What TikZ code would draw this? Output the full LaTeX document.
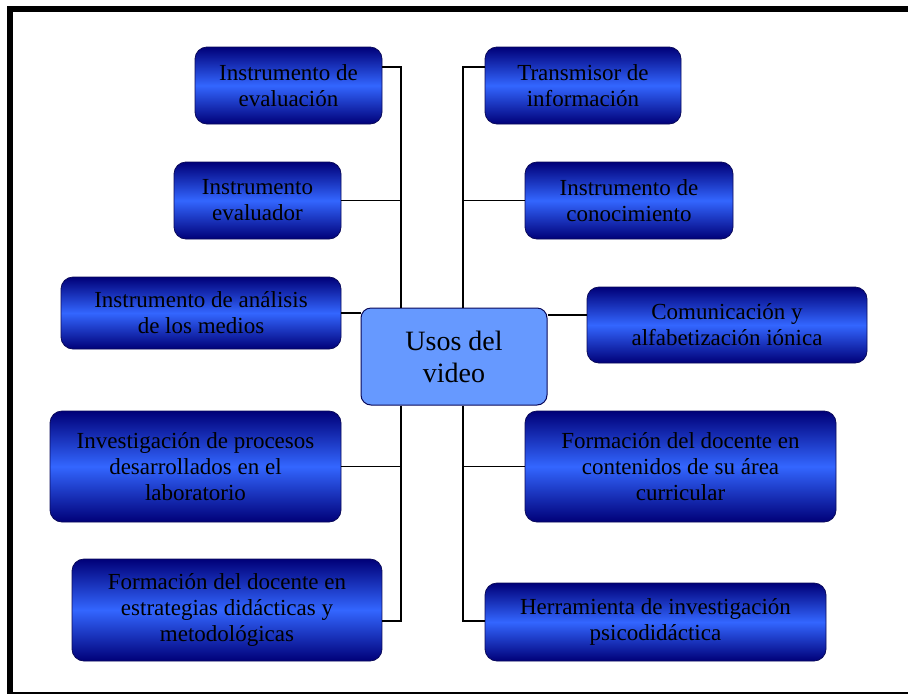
\documentclass[tikz,border=0pt]{standalone}
\usepackage{fontspec}
\setmainfont{Liberation Serif}
\newfontfamily\boxserif{Liberation Serif}
\definecolor{navyd}{RGB}{0,0,120}
\definecolor{brightb}{RGB}{51,102,255}
\definecolor{centerb}{RGB}{102,153,255}
\definecolor{edgeb}{RGB}{10,10,90}
\begin{document}
\begin{tikzpicture}[x=1pt,y=-1pt,
  usebox/.style={draw=edgeb, line width=0.8pt, rounded corners=12pt,
    top color=navyd, bottom color=navyd, middle color=brightb,
    align=center, inner sep=0pt, text=black,
    font=\boxserif\fontsize{23}{26}\selectfont},
  hub/.style={draw=edgeb, line width=1pt, rounded corners=10pt, fill=centerb,
    align=center, inner sep=0pt, text=black,
    font=\boxserif\fontsize{28}{32}\selectfont},
  conn/.style={draw=black, line width=1.3pt},
  frameline/.style={draw=black}]
\useasboundingbox (0,0) rectangle (908,697);
% outer frame
\draw[frameline, line width=1.5pt] (7,693) -- (908,693);
\draw[frameline, line width=6pt, line join=miter] (10,693) -- (10,8.5) -- (908,8.5);

% nodes
\node[usebox, minimum width=187pt, minimum height=77pt] (b1) at (288.5,85.5) {Instrumento de\\evaluación};
\node[usebox, minimum width=167pt, minimum height=77pt] (b2) at (257.5,200.5) {Instrumento\\evaluador};
\node[usebox, minimum width=280pt, minimum height=72pt] (b3) at (201,313) {Instrumento de análisis\\de los medios};
\node[usebox, minimum width=291pt, minimum height=111pt] (b4) at (195.5,466.5) {Investigación de procesos\\desarrollados en el\\laboratorio};
\node[usebox, minimum width=310pt, minimum height=102pt] (b5) at (227,610) {Formación del docente en\\estrategias didácticas y\\metodológicas};

\node[usebox, minimum width=196pt, minimum height=77pt] (r1) at (583,85.5) {Transmisor de\\información};
\node[usebox, minimum width=208pt, minimum height=77pt] (r2) at (629,200.5) {Instrumento de\\conocimiento};
\node[usebox, minimum width=280pt, minimum height=76pt] (r3) at (727,325) {Comunicación y\\alfabetización iónica};
\node[usebox, minimum width=311pt, minimum height=111pt] (r4) at (680.5,466.5) {Formación del docente en\\contenidos de su área\\curricular};
\node[usebox, minimum width=341pt, minimum height=78pt] (r5) at (655.5,622) {Herramienta de investigación\\psicodidáctica};

\node[hub, minimum width=186pt, minimum height=97pt] (hub) at (454,356.5) {Usos del\\video};

% trunk coordinates
\coordinate (lt) at (401,67);
\coordinate (lb) at (401,621);
\coordinate (rt) at (463,67);
\coordinate (rb) at (463,621);
\coordinate (rc) at (560,315);

% connectors left
\draw[conn] (b1.east |- lt) -- (lt) -- (lt |- hub.north);
\draw[conn] (b2.east) -- (b2.east -| lt);
\draw[conn] (b3.east) -- (b3.east -| hub.west);
\draw[conn] (b4.east) -- (b4.east -| lb);
\draw[conn] (hub.south -| lb) -- (lb) -- (b5.east |- lb);
% connectors right
\draw[conn] (r1.west |- rt) -- (rt) -- (rt |- hub.north);
\draw[conn] (r2.west) -- (r2.west -| rt);
\draw[conn] (hub.east |- rc) -- (r3.west |- rc);
\draw[conn] (r4.west) -- (r4.west -| rb);
\draw[conn] (hub.south -| rb) -- (rb) -- (r5.west |- rb);
\end{tikzpicture}
\end{document}
